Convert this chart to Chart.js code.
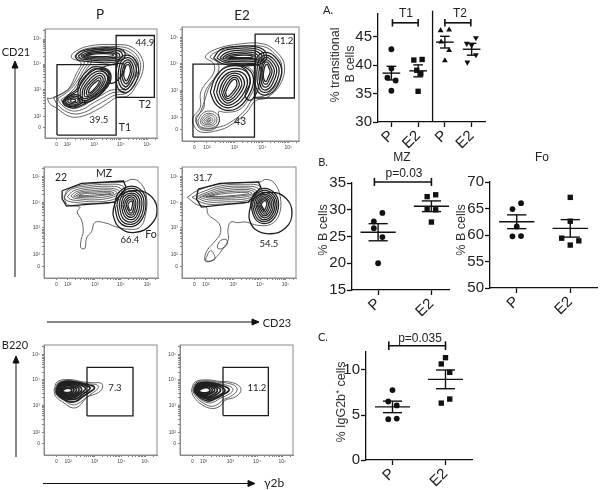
<!DOCTYPE html>
<html><head><meta charset="utf-8">
<style>
html,body{margin:0;padding:0;background:#fff;width:601px;height:490px;overflow:hidden}
#stage{position:relative;width:601px;height:490px;filter:blur(0.45px)}
canvas{position:absolute}
.t{position:absolute;white-space:nowrap;line-height:1;transform-origin:center}
svg{position:absolute;left:0;top:0}
</style>
<script src="https://cdn.jsdelivr.net/npm/chart.js@4"></script>
</head><body><div id="stage">
<svg width="601" height="490">
<g stroke="#111" stroke-width="1" fill="#111">
<line x1="15" y1="277" x2="15" y2="66"/><polygon points="15,61 12,68 18,68"/>
<line x1="47" y1="322" x2="254" y2="322"/><polygon points="259,322 252,319 252,325"/>
<line x1="16" y1="457" x2="16" y2="361"/><polygon points="16,356 13,363 19,363"/>
<line x1="43" y1="483.5" x2="250" y2="483.5"/><polygon points="255,483.5 248,480.5 248,486.5"/>
</g></svg>
<script>
// ---------- scatter panels: categories, values, SEM ----------
const catLabels = ['P','E2'];
const catLabelsA = ['P','E2','P','E2'];
const yTicksA = [30,35,40,45], yTicksMZ = [15,20,25,30,35], yTicksFo = [50,55,60,65,70], yTicksC = [0,5,10];

const t1pValues = [42.8,39.4,37.8,37.3,35.5], t1pOffsets = [0,0,-0.15,0.16,0];
const t1eValues = [40.9,41.0,39.1,38.5,35.4], t1eOffsets = [-0.16,0.15,-0.05,0.1,0];
const t2pValues = [46.1,46.2,44.1,42.6,40.8], t2pOffsets = [-0.16,0.16,-0.14,0.16,0];
const t2eValues = [44.8,43.8,43.5,41.8,40.5], t2eOffsets = [0.16,-0.18,0,0.16,-0.16];
const meansA = [38.6,39.0,44.05,42.8], semsA = [1.2,1.05,1.03,1.05];

const mzpValues = [29.4,27.8,26.55,24.9,20.0], mzpOffsets = [0.08,-0.08,-0.08,0.08,0];
const mzeValues = [32.8,32.45,30.2,30.0,27.7], mzeOffsets = [0.08,-0.08,-0.08,0.08,0];
const meansMZ = [25.8,30.65], semsMZ = [1.6,1.0];

const fopValues = [66.0,64.9,61.6,59.75,59.8], fopOffsets = [0.08,-0.08,0,-0.08,0.08];
const foeValues = [67.1,62.6,59.4,58.9,58.1], foeOffsets = [0,0,-0.16,0.16,0];
const meansFo = [62.5,61.25], semsFo = [1.3,1.65];

const igpValues = [7.77,6.5,6.06,4.54,4.6], igpOffsets = [0,-0.08,0.08,-0.08,0.08];
const igeValues = [11.37,10.67,9.74,6.77,6.32], igeOffsets = [0,-0.08,0.08,0.08,-0.08];
const meansC = [5.9,8.96], semsC = [0.64,1.04];

// ---------- flow panels: axis channels of each decade label, gates, contours (display channels) ----------
const decadeLabels = ['0','10²','10³','10⁴','10⁵'];
const p1XT=[35,67,148,228,308], p1YT=[32,65,150,228,305];
const p2XT=[37,75,158,242,320], p2YT=[35,73,156,238,317];
const p3XT=[37,71,152,229,309], p3YT=[35,71,154,233,311];
const p4XT=[37,71,153,233,309], p4YT=[35,71,154,233,311];
const p5XT=[37,72,152,231,304], p5YT=[35,70,153,231,308];
const p6XT=[37,71,151,231,307], p6YT=[35,70,153,231,308];

const p1Gates=[[36,9,36,226,214,226,214,9,36,9],[214,125,214,316,329,316,329,125,214,125]];
const p2Gates=[[33,12,33,236,218,236,218,12,33,12],[220,132,220,328,338,328,338,132,220,132]];
const p3Gates=[[54,268,112,291,237,298,245,278,212,233,67,221,54,243,54,268]];
const p3Circle=[207,213,222,250,268,268,315,255,337,213,320,165,272,140,225,155,207,190,207,213];
const p4Gates=[[48,273,113,291,228,295,235,278,198,233,58,218,43,243,48,273]];
const p4Circle=[201,205,215,245,265,263,310,245,328,200,310,155,263,136,218,150,201,180,201,205];
const p5Gates=[[129,120,129,269,267,269,267,120,129,120]];
const p6Gates=[[129,121,129,269,265,269,265,121,129,121]];

// envelopes first (thin lines), then the dense population rings
const p1Envelopes=[
[7,123,18,122,45,133,70,150,95,200,108,232,80,247,85,262,130,283,215,288,262,280,292,245,294,205,275,163,250,130,215,125,195,112,165,92,115,68,75,66,35,92,14,106,7,123],
[25,125,55,140,80,160,105,205,118,235,95,250,100,265,140,278,215,282,258,272,284,242,286,205,268,165,245,138,210,132,185,118,155,100,115,78,78,76,42,98,25,125],
[38,122,65,140,92,168,115,208,130,238,110,252,115,264,150,273,215,276,252,266,278,240,280,205,262,170,240,145,205,140,175,125,145,108,112,88,80,84,50,102,38,122],
[48,118,75,138,100,170,125,212,140,238,125,252,130,262,165,268,215,271,248,260,272,236,274,205,256,175,235,150,200,148,170,132,140,115,108,96,82,92,58,104,48,118]];
const p1Rings=[
[52,112,70,132,95,150,105,180,130,210,150,220,190,210,198,180,180,148,150,122,118,105,85,92,60,100,52,112],
[58,113,72,128,98,146,110,176,135,205,150,214,186,205,192,180,175,150,148,128,115,110,85,98,64,104,58,113],
[55,114,70,128,92,134,108,128,112,112,98,100,78,97,60,102,55,114],
[62,115,74,125,90,129,102,124,105,112,94,104,78,102,66,106,62,115],
[68,116,78,122,90,124,98,120,99,112,90,108,78,107,70,110,68,116],
[75,116,84,120,92,117,90,112,80,111,75,116],
[100,125,100,150,115,178,140,205,165,215,190,205,195,180,178,150,155,125,125,110,105,112,100,125],
[106,128,107,150,120,174,142,198,165,207,184,198,188,178,172,150,150,128,125,116,110,118,106,128],
[112,130,114,150,126,170,146,192,165,200,178,192,181,176,166,150,146,130,125,122,115,122,112,130],
[118,132,120,150,132,168,150,186,164,193,173,187,175,174,160,150,142,133,126,127,120,128,118,132],
[124,135,127,150,138,166,153,180,163,186,168,181,168,172,155,152,140,138,129,132,124,135],
[130,138,134,152,144,165,156,175,162,178,163,172,150,153,138,141,130,138],
[90,252,110,268,150,276,200,278,235,270,240,250,215,235,170,232,125,236,100,240,90,252],
[100,253,118,265,155,272,200,273,228,265,232,250,212,240,170,238,130,241,108,245,100,253],
[108,253,125,262,160,268,200,268,222,260,224,250,208,245,170,243,135,245,115,248,108,253],
[115,253,132,260,165,264,198,263,215,257,216,251,200,248,170,247,138,249,122,250,115,253],
[122,254,140,258,170,260,196,259,206,255,196,252,170,251,140,252,122,254],
[215,215,225,245,250,255,272,240,282,205,270,165,245,140,222,150,214,180,215,215],
[222,213,230,238,250,248,267,235,275,205,263,170,245,150,228,158,220,183,222,213],
[228,210,235,232,250,241,262,230,268,205,258,175,245,158,233,165,227,185,228,210],
[233,208,239,226,250,234,258,225,262,205,254,180,245,167,238,172,232,188,233,208],
[238,206,242,220,250,227,255,220,257,205,251,186,245,176,241,180,237,192,238,206],
[165,215,195,225,225,230,240,225,235,200,215,175,195,170,190,190,165,215]];

const p2Envelopes=[
[32,73,55,103,55,143,65,168,95,208,95,238,70,258,105,283,175,298,245,298,285,273,308,233,295,173,255,133,220,123,195,88,145,48,110,33,55,28,33,53,32,73],
[42,75,65,100,68,145,80,170,108,210,108,240,85,258,115,278,175,290,245,290,280,266,300,232,288,178,250,140,215,130,188,92,142,55,108,42,62,38,42,58,42,75],
[44,70,58,95,70,130,82,165,110,205,130,228,175,234,210,218,220,178,198,125,170,95,130,88,110,90,112,60,95,36,62,34,46,48,44,70],
[48,63,62,85,85,92,108,80,112,58,95,42,68,40,52,48,48,63],
[55,63,66,80,84,85,102,76,104,58,92,47,70,46,58,52,55,63],
[60,63,70,76,84,80,97,72,98,59,88,51,72,51,62,55,60,63],
[66,63,73,72,83,74,91,68,92,60,84,55,74,55,67,58,66,63],
[71,63,77,68,84,69,87,64,83,59,75,59,71,63],
[76,64,82,65,83,62,77,61,76,64]];
const p2Rings=[
[85,150,100,195,130,225,175,230,205,215,215,180,195,130,165,100,130,95,100,115,85,150],
[95,150,108,190,135,218,172,222,198,208,205,178,188,135,160,108,130,103,107,120,95,150],
[104,150,115,185,140,210,170,214,190,202,197,176,180,138,156,115,132,110,114,125,104,150],
[112,150,122,180,143,204,168,207,182,196,188,174,172,142,152,122,134,117,120,130,112,150],
[119,150,128,176,146,198,166,200,176,190,180,172,165,145,149,128,136,124,125,134,119,150],
[125,150,134,172,149,192,164,194,170,185,172,170,158,148,146,134,137,130,129,138,125,150],
[131,150,139,168,151,186,162,188,165,180,164,168,152,150,143,140,137,136,133,142,131,150],
[95,255,115,280,160,290,220,290,250,275,250,245,215,232,160,232,120,238,95,255],
[105,255,122,275,162,284,218,284,244,270,244,248,214,238,160,238,125,243,105,255],
[114,255,130,270,164,278,215,278,238,265,238,250,212,244,160,244,130,247,114,255],
[122,255,137,266,166,272,212,272,230,262,230,252,208,249,162,249,136,251,122,255],
[130,256,144,263,168,267,208,267,222,259,220,254,205,253,165,253,142,254,130,256],
[140,257,168,263,205,263,214,258,200,256,165,256,140,257],
[218,215,225,255,250,272,280,258,300,220,290,175,265,145,235,145,220,175,218,215],
[225,213,232,250,252,264,275,252,292,220,283,180,262,153,238,153,227,180,225,213],
[231,211,238,245,253,257,271,246,285,218,276,184,260,160,241,160,233,184,231,211],
[237,210,243,240,254,250,267,240,278,216,270,188,258,168,244,168,238,188,237,210],
[241,209,246,235,255,243,263,234,271,214,264,192,256,176,247,176,242,192,241,209],
[245,208,249,228,256,236,260,228,265,212,259,195,254,184,249,184,245,196,245,208],
[175,230,205,235,235,228,235,190,225,150,205,125,190,140,205,180,195,215,175,230]];

const p3Envelopes=[
[60,245,70,270,110,285,180,293,240,295,262,303,285,295,305,255,302,190,285,155,250,150,212,158,187,168,152,171,142,143,127,123,122,91,110,93,111,118,117,143,112,178,99,203,107,218,70,225,60,245],
[60,250,80,272,130,283,190,288,235,282,238,255,205,233,150,228,95,232,68,238,60,250],
[70,250,88,268,133,278,190,282,228,276,230,258,203,240,150,234,100,238,78,242,70,250],
[80,252,96,265,136,273,190,276,222,270,224,260,200,247,150,240,105,243,88,246,80,252],
[88,252,104,263,140,268,190,271,215,266,216,260,198,252,150,246,110,247,96,249,88,252],
[96,253,112,261,145,264,190,266,208,262,206,258,190,256,150,251,115,250,104,251,96,253],
[104,254,120,259,150,260,190,262,200,260,190,258,150,255,120,253,104,254]];
const p3Rings=[
[210,225,222,262,262,282,296,262,304,225,292,180,262,158,225,172,210,225],
[217,225,228,258,262,275,291,258,298,225,287,184,262,165,230,178,217,225],
[224,225,233,254,262,268,286,254,292,225,282,188,262,172,235,184,224,225],
[230,225,238,250,262,261,281,250,286,225,277,192,262,179,240,190,230,225],
[235,225,243,246,262,255,276,246,280,225,272,196,262,186,245,195,235,225],
[240,225,247,242,262,249,271,242,274,225,268,200,262,193,249,200,240,225],
[245,225,251,238,262,243,267,238,269,225,265,206,260,199,253,205,245,225],
[250,225,255,233,262,237,264,232,264,225,261,212,258,207,254,212,250,225]];

const p4Envelopes=[
[16,248,45,268,110,288,180,293,233,295,250,303,275,292,293,250,290,195,265,165,225,162,190,172,165,170,145,172,137,148,138,118,122,90,100,62,80,50,68,55,75,85,100,115,115,140,110,168,78,195,72,218,45,225,16,248],
[105,98,115,115,132,118,135,105,122,92,108,90,105,98],
[70,58,85,84,98,66,95,55,72,52,70,58],
[30,248,55,262,115,283,190,288,232,282,235,255,195,232,130,228,70,228,30,248],
[42,248,62,258,118,278,190,282,226,276,228,258,195,238,130,234,75,234,42,248],
[52,248,72,257,122,273,190,277,220,270,222,260,195,244,130,240,80,240,52,248],
[62,250,82,257,126,268,190,272,214,266,215,260,195,250,130,245,88,245,62,250],
[72,250,92,256,130,264,190,267,208,262,207,258,190,254,130,249,92,249,72,250],
[82,251,100,255,135,260,188,263,200,260,188,257,135,252,100,250,82,251]];
const p4Rings=[
[205,225,215,258,246,275,278,258,288,225,276,185,246,167,218,182,205,225],
[210,225,219,254,246,269,274,254,283,225,272,189,246,173,222,186,210,225],
[215,225,224,250,246,263,270,250,278,225,268,193,246,179,227,191,215,225],
[220,225,228,247,246,257,266,247,273,225,264,197,246,185,231,196,220,225],
[224,225,232,244,246,252,262,244,268,225,260,201,246,191,235,200,224,225],
[228,225,235,241,247,247,258,241,263,225,256,205,247,196,238,205,228,225],
[232,225,238,238,247,243,255,237,258,225,252,208,247,202,241,209,232,225],
[236,225,242,235,248,238,252,233,253,225,249,214,246,208,242,214,236,225]];

const p5Envelopes=[
[30,200,40,225,75,232,115,225,145,222,172,220,175,205,160,190,130,178,105,150,85,145,60,160,35,180,30,200],
[33,200,43,222,75,229,115,222,140,218,160,215,162,205,145,190,125,175,100,157,82,155,60,168,38,184,33,200]];
const p5Rings=[
[36,199,46,220,75,226,110,221,135,215,150,210,150,203,135,192,115,178,96,165,78,163,58,172,40,186,36,199],
[38,199,48,218,75,224,105,220,125,213,138,207,135,200,118,188,100,174,78,170,58,176,43,187,38,199],
[40,198,50,216,75,221,100,218,118,211,125,205,120,197,105,185,90,176,75,174,56,180,45,189,40,198],
[42,198,52,214,75,219,97,215,110,208,113,200,105,190,90,180,73,178,58,183,48,190,42,198],
[45,198,55,212,75,216,92,212,103,206,105,198,95,188,82,182,70,181,58,186,50,192,45,198],
[48,197,58,209,75,213,88,209,96,204,97,197,88,189,76,184,66,185,56,190,48,197],
[50,197,60,206,75,209,85,206,90,201,88,195,78,188,68,188,58,192,50,197],
[54,197,63,203,75,205,82,202,83,197,75,192,65,192,58,194,54,197]];

const p6Envelopes=[
[34,198,45,224,80,231,120,226,150,224,178,212,182,195,165,178,135,168,120,150,95,143,65,155,42,178,34,198],
[38,198,48,222,80,228,118,223,146,220,168,210,170,196,152,180,130,170,112,155,92,150,66,162,46,182,38,198],
[40,198,50,220,80,225,114,220,138,215,156,207,158,197,142,184,120,174,102,163,86,160,66,168,48,185,40,198]];
const p6Rings=[
[42,198,52,218,80,223,112,218,130,212,146,204,146,197,130,186,112,176,96,168,82,166,64,174,50,186,42,198],
[44,197,54,216,80,221,108,216,124,208,134,201,134,195,118,184,100,174,84,171,66,178,52,188,44,197],
[46,197,56,214,80,219,104,214,116,206,122,199,115,190,100,180,82,175,66,181,54,190,46,197],
[48,197,58,212,80,216,100,212,110,204,112,197,102,187,88,180,74,180,60,186,48,197],
[50,197,60,210,80,214,96,210,103,203,103,196,92,188,78,183,66,185,54,191,50,197],
[53,197,63,207,80,211,92,207,97,201,94,194,82,188,68,188,58,192,53,197],
[56,197,65,204,80,207,88,203,90,198,84,193,72,191,62,193,56,197]];

// ---------- helpers ----------
const stage = document.getElementById('stage');
function mkCanvas(l,t,w,h){const c=document.createElement('canvas');c.width=w;c.height=h;c.style.left=l+'px';c.style.top=t+'px';c.style.width=w+'px';c.style.height=h+'px';stage.appendChild(c);return c;}
function label(text,cx,cy,size,font,color,rot){const d=document.createElement('div');d.className='t';d.textContent=text;
 d.style.cssText+=`left:${cx}px;top:${cy}px;font:${size}px ${font};color:${color};transform:translate(-50%,-50%) rotate(${rot||0}deg)`;stage.appendChild(d);}
const pts=a=>{const o=[];for(let i=0;i<a.length;i+=2)o.push({x:a[i],y:a[i+1]});return o;};
const lineDs=(a,w,c,tension)=>({data:pts(a),showLine:true,pointRadius:0,borderColor:c,borderWidth:w,tension:tension||0,clip:false,backgroundColor:'transparent'});
const markDs=(cat,vals,offs,style,r,rot)=>({data:vals.map((v,i)=>({x:cat+offs[i],y:v})),showLine:false,pointStyle:style,pointRadius:r,pointRotation:rot||0,backgroundColor:'#111',borderColor:'#111',borderWidth:0,clip:false});

function statPanel(o){
 const L=48,T=12,R=3,B=32,w=o.r-o.l,h=o.b-o.t;
 const ds=[];
 o.groups.forEach(g=>ds.push(markDs(g.cat,g.vals,g.offs,g.style,g.r,g.rot)));
 o.means.forEach((m,i)=>{const c=i+1,s=o.sems[i];
  ds.push(lineDs([c-0.33,m,c+0.33,m],1.4,'#111'));
  ds.push(lineDs([c,m-s,c,m+s],1.4,'#111'));
  ds.push(lineDs([c-0.18,m+s,c+0.18,m+s],1.4,'#111'));
  ds.push(lineDs([c-0.18,m-s,c+0.18,m-s],1.4,'#111'));
 });
 (o.brackets||[]).forEach(b=>{
  ds.push(lineDs([b.x1,b.y,b.x2,b.y],1.6,'#111'));
  ds.push(lineDs([b.x1,b.y-b.c,b.x1,b.y+b.c],1.6,'#111'));
  ds.push(lineDs([b.x2,b.y-b.c,b.x2,b.y+b.c],1.6,'#111'));
 });
 (o.extra||[]).forEach(e=>ds.push(lineDs(e,1.3,'#111')));
 const xTicks=o.cats.map((_,i)=>i+1);
 new Chart(mkCanvas(o.l-L,o.t-T,w+L+R,h+T+B),{type:'scatter',data:{datasets:ds},options:{
  responsive:false,animation:false,devicePixelRatio:1,layout:{padding:{left:0,top:T,right:R,bottom:0}},
  plugins:{legend:{display:false},tooltip:{enabled:false}},
  scales:{
   x:{type:'linear',min:o.xMin,max:o.xMax,afterBuildTicks:s=>{s.ticks=xTicks.map(v=>({value:v}));},afterFit:s=>{s.height=B;},
      grid:{drawOnChartArea:false,tickLength:5,tickColor:'#111',tickWidth:1.3},border:{color:'#111',width:1.3},
      ticks:{autoSkip:false,minRotation:45,maxRotation:45,padding:0,color:'#222',font:{family:'"Liberation Sans"',size:15},callback:v=>o.cats[v-1]}},
   y:{type:'linear',min:o.yMin,max:o.yMax,afterBuildTicks:s=>{s.ticks=o.yt.map(v=>({value:v}));},afterFit:s=>{s.width=L;},
      grid:{drawOnChartArea:false,tickLength:5,tickColor:'#111',tickWidth:1.3},border:{color:'#111',width:1.3},
      ticks:{autoSkip:false,padding:1,color:'#222',font:{family:'"Liberation Sans"',size:15},callback:v=>String(v)}}
  }}});
}

function minors(t){ // minor log tick channels between the labelled decades
 const out=[],step=t[2]-t[1],frac=[.301,.477,.602,.699,.778,.845,.903,.954];
 for(let d=1;d<t.length-1;d++)frac.forEach(f=>out.push(t[d]+f*(t[d+1]-t[d])));
 frac.forEach(f=>out.push(t[t.length-1]+f*step));
 return out;
}
function flowPanel(o){
 const L=22,T=2,R=4,B=13,w=o.r-o.l,h=o.b-o.t,ds=[];
 o.gates.forEach(g=>ds.push(lineDs(g,1.3,'#1c1c1c')));
 if(o.circle)ds.push(lineDs(o.circle,1.3,'#1c1c1c',0.45));
 o.rings.forEach(r=>ds.push(lineDs(r,o.lw,'#202020',0.4)));
 o.envelopes.forEach(r=>ds.push(lineDs(r,0.75,'#303030',0.4)));
 const axis=(tk,max,isX)=>{const m=minors(tk).filter(v=>v<max);const all=tk.map(v=>({value:v})).concat(m.map(v=>({value:v})));
  return {type:'linear',min:0,max,afterBuildTicks:s=>{s.ticks=all;},afterFit:s=>{if(isX)s.height=B;else s.width=L;},
   grid:{drawOnChartArea:false,tickLength:2,tickColor:'#333',tickWidth:.6},border:{color:'#8a8a8a',width:1},
   ticks:{autoSkip:false,maxRotation:0,minRotation:0,padding:2,color:'#444',font:{family:'"Liberation Sans"',size:5},callback:v=>{const i=tk.indexOf(v);return i>=0?decadeLabels[i]:'';}}};};
 new Chart(mkCanvas(o.l-L,o.t-T,w+L+R,h+T+B),{type:'scatter',data:{datasets:ds},
  plugins:[{id:'frame',afterDraw(c){const a=c.chartArea,x=c.ctx;x.save();x.strokeStyle='#8a8a8a';x.lineWidth=1;x.strokeRect(a.left,a.top,a.right-a.left,a.bottom-a.top);x.restore();}}],
  options:{responsive:false,animation:false,devicePixelRatio:1,layout:{padding:{left:0,top:T,right:R,bottom:0}},
  plugins:{legend:{display:false},tooltip:{enabled:false}},
  scales:{x:axis(o.xt,o.xMax,true),y:axis(o.yt,o.yMax,false)}}});
}

// ---------- flow panels ----------
flowPanel({l:45,t:26,r:157,b:138,xMax:337,yMax:336,xt:p1XT,yt:p1YT,gates:p1Gates,rings:p1Rings,envelopes:p1Envelopes,lw:1.25});
flowPanel({l:182,t:24,r:299,b:141,xMax:352,yMax:350,xt:p2XT,yt:p2YT,gates:p2Gates,rings:p2Rings,envelopes:p2Envelopes,lw:1.25});
flowPanel({l:44,t:164,r:158,b:278,xMax:340,yMax:341,xt:p3XT,yt:p3YT,gates:p3Gates,circle:p3Circle,rings:p3Rings,envelopes:p3Envelopes,lw:1.25});
flowPanel({l:182,t:164,r:296,b:278,xMax:340,yMax:341,xt:p4XT,yt:p4YT,gates:p4Gates,circle:p4Circle,rings:p4Rings,envelopes:p4Envelopes,lw:1.25});
flowPanel({l:44,t:342,r:157,b:455,xMax:339,yMax:338,xt:p5XT,yt:p5YT,gates:p5Gates,rings:p5Rings,envelopes:p5Envelopes,lw:1.7});
flowPanel({l:180,t:342,r:293,b:455,xMax:339,yMax:338,xt:p6XT,yt:p6YT,gates:p6Gates,rings:p6Rings,envelopes:p6Envelopes,lw:1.7});

// ---------- statistics panels ----------
statPanel({l:378,r:486,t:14,b:122,xMin:0.5,xMax:4.5,yMin:30,yMax:49,yt:yTicksA,cats:catLabelsA,means:meansA,sems:semsA,
 groups:[{cat:1,vals:t1pValues,offs:t1pOffsets,style:'circle',r:2.9},{cat:2,vals:t1eValues,offs:t1eOffsets,style:'rect',r:3.8},
         {cat:3,vals:t2pValues,offs:t2pOffsets,style:'triangle',r:3.4},{cat:4,vals:t2eValues,offs:t2eOffsets,style:'triangle',r:3.4,rot:180}],
 brackets:[{x1:1.04,x2:2,y:47.45,c:0.65},{x1:3,x2:3.97,y:47.45,c:0.65}],extra:[[2.54,30,2.54,49.6]]});
statPanel({l:352,r:450,t:183,b:290,xMin:0.51,xMax:2.33,yMin:15,yMax:35,yt:yTicksMZ,cats:catLabels,means:meansMZ,sems:semsMZ,
 groups:[{cat:1,vals:mzpValues,offs:mzpOffsets,style:'circle',r:2.9},{cat:2,vals:mzeValues,offs:mzeOffsets,style:'rect',r:3.8}],
 brackets:[{x1:0.93,x2:2,y:35.2,c:0.75}]});
statPanel({l:490,r:598,t:182,b:288,xMin:0.5,xMax:2.5,yMin:50,yMax:70,yt:yTicksFo,cats:catLabels,means:meansFo,sems:semsFo,
 groups:[{cat:1,vals:fopValues,offs:fopOffsets,style:'circle',r:2.9},{cat:2,vals:foeValues,offs:foeOffsets,style:'rect',r:3.8}]});
statPanel({l:366,r:473,t:352,b:460,xMin:0.5,xMax:2.5,yMin:0,yMax:12,yt:yTicksC,cats:catLabels,means:meansC,sems:semsC,
 groups:[{cat:1,vals:igpValues,offs:igpOffsets,style:'circle',r:2.9},{cat:2,vals:igeValues,offs:igeOffsets,style:'rect',r:3.8}],
 brackets:[{x1:0.93,x2:2,y:12.7,c:0.48}]});

// ---------- text ----------
const CAL='Lato,"Open Sans",sans-serif', ARI='"Liberation Sans",Arial,sans-serif';
[['P',100,14,13.5],['E2',242,15,13.5],['CD21',16,51,11],['CD23',277,322,11],['B220',15,344,11],['γ2b',274,482,12]]
 .forEach(a=>label(a[0],a[1],a[2],a[3],CAL,'#222'));
[['44.9',145,42],['T2',145,104],['39.5',99,119],['T1',125,127],['41.2',284,40],['43',240,121],
 ['22',61,177],['MZ',104,173],['66.4',130,239],['Fo',151,234],['31.7',203,177],['54.5',269,243],
 ['7.3',115,387],['11.2',257,387]].forEach(a=>label(a[0],a[1],a[2],a[0].length>2&&a[0]!=='MZ'?9.5:10.5,CAL,'#222'));
[['A.',328,9],['B.',323,161],['C.',323,336]].forEach(a=>label(a[0],a[1],a[2],11,CAL,'#222'));
[['T1',406,13],['T2',460,13],['MZ',402,157],['Fo',542,157],['p=0.03',404,173],['p=0.035',420,338]]
 .forEach(a=>label(a[0],a[1],a[2],12,ARI,'#222'));
label('% transitional',335,65,12.5,ARI,'#333',-90);
label('B cells',350,64,12.5,ARI,'#333',-90);
label('% B cells',323,230,12.5,ARI,'#333',-90);
label('% B cells',461,230,12.5,ARI,'#333',-90);
label('% IgG2b⁺ cells',340,402,12.5,ARI,'#333',-90);
</script>
</div></body></html>
